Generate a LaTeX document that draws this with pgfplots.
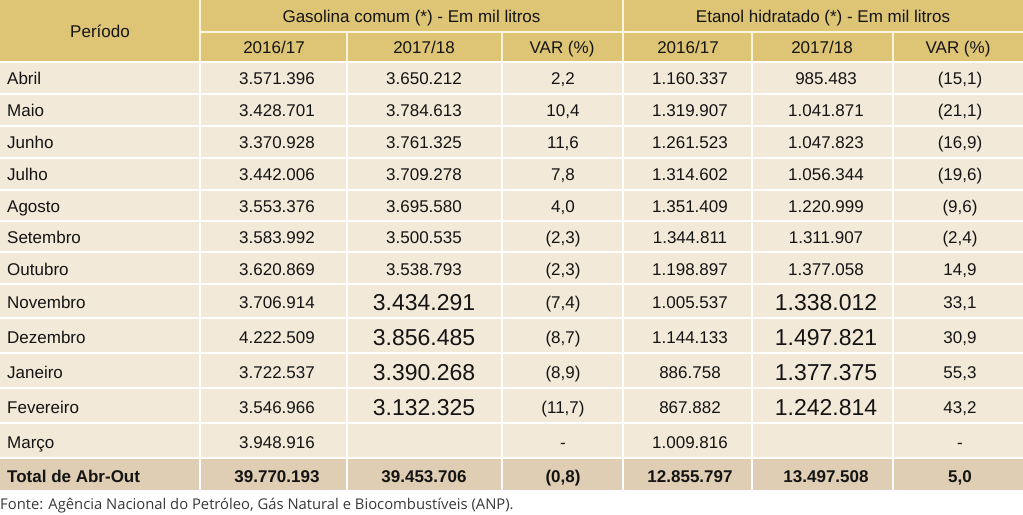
\documentclass[border=0pt]{standalone}
\usepackage{pgfplots}
\pgfplotsset{compat=1.18}
\usepackage{fontspec}
\setmainfont{Liberation Sans}
\newfontfamily\footfont{Open Sans}
\definecolor{hdr}{RGB}{222,197,118}
\definecolor{hline}{RGB}{252,244,220}
\definecolor{bodyc}{RGB}{243,233,216}
\definecolor{tot}{RGB}{223,206,179}
\definecolor{txt}{RGB}{20,20,20}
\pgfplotsset{
  txtplot/.style={only marks, mark=none, nodes near coords, point meta=explicit symbolic,
    every node near coord/.append style={anchor=base, inner sep=0pt, text=txt, font=\fontsize{17bp}{20bp}\selectfont}},
  wline/.style={white, line width=2.6bp, mark=none, forget plot},
  hwline/.style={hline, line width=2.4bp, mark=none, forget plot},
}
\begin{document}
\begin{tikzpicture}
\begin{axis}[hide axis, scale only axis, width=1023bp, height=515bp,
  xmin=0, xmax=1023, ymin=0, ymax=515, y dir=reverse, clip=false]
% backgrounds
\addplot[fill=hdr, draw=none, mark=none] coordinates {(0,0) (1023,0) (1023,62) (0,62)};
\addplot[fill=bodyc, draw=none, mark=none] coordinates {(0,62) (1023,62) (1023,458) (0,458)};
\addplot[fill=tot, draw=none, mark=none] coordinates {(0,458) (1023,458) (1023,491) (0,491)};
% rules
\addplot[hwline] coordinates {(200,32) (1023,32)};
\addplot[hwline] coordinates {(200,0) (200,62)};
\addplot[hwline] coordinates {(623,0) (623,62)};
\addplot[hwline] coordinates {(347,32) (347,62)};
\addplot[hwline] coordinates {(502,32) (502,62)};
\addplot[hwline] coordinates {(752,32) (752,62)};
\addplot[hwline] coordinates {(893,32) (893,62)};
\addplot[wline] coordinates {(0,62) (1023,62)};
\addplot[wline] coordinates {(0,94) (1023,94)};
\addplot[wline] coordinates {(0,126) (1023,126)};
\addplot[wline] coordinates {(0,158) (1023,158)};
\addplot[wline] coordinates {(0,190) (1023,190)};
\addplot[wline] coordinates {(0,221) (1023,221)};
\addplot[wline] coordinates {(0,252) (1023,252)};
\addplot[wline] coordinates {(0,284) (1023,284)};
\addplot[wline] coordinates {(0,318) (1023,318)};
\addplot[wline] coordinates {(0,353) (1023,353)};
\addplot[wline] coordinates {(0,388) (1023,388)};
\addplot[wline] coordinates {(0,423) (1023,423)};
\addplot[wline] coordinates {(0,458) (1023,458)};
\addplot[wline] coordinates {(0,491) (1023,491)};
\addplot[wline] coordinates {(200,62) (200,491)};
\addplot[wline] coordinates {(623,62) (623,491)};
\addplot[wline] coordinates {(347,62) (347,491)};
\addplot[wline] coordinates {(502,62) (502,491)};
\addplot[wline] coordinates {(752,62) (752,491)};
\addplot[wline] coordinates {(893,62) (893,491)};
% header
\addplot[txtplot] table[col sep=semicolon, x=x, y=y, meta=t] {
x;y;t
100;38;Período
411.5;23;Gasolina comum (*) - Em mil litros
823;23;Etanol hidratado (*) - Em mil litros
274;54;2016/17
424;54;2017/18
562;54;VAR (\%)
688;54;2016/17
822;54;2017/18
958;54;VAR (\%)
};
% period names
\addplot[txtplot, every node near coord/.append style={anchor=base west}] table[col sep=semicolon, x=x, y=y, meta=t] {
x;y;t
7;84.5;Abril
7;116.5;Maio
7;148.5;Junho
7;180.5;Julho
7;212.5;Agosto
7;243.5;Setembro
7;275;Outubro
7;308;Novembro
7;343;Dezembro
7;378;Janeiro
7;413;Fevereiro
7;448;Março
};
% Gasolina 2016/17
\addplot[txtplot] table[col sep=semicolon, x=x, y=y, meta=t] {
x;y;t
277;84.5;3.571.396
277;116.5;3.428.701
277;148.5;3.370.928
277;180.5;3.442.006
277;212.5;3.553.376
277;243.5;3.583.992
277;275;3.620.869
277;308;3.706.914
277;343;4.222.509
277;378;3.722.537
277;413;3.546.966
277;448;3.948.916
};
% Gasolina 2017/18
\addplot[txtplot] table[col sep=semicolon, x=x, y=y, meta=t] {
x;y;t
424;84.5;3.650.212
424;116.5;3.784.613
424;148.5;3.761.325
424;180.5;3.709.278
424;212.5;3.695.580
424;243.5;3.500.535
424;275;3.538.793
};
\addplot[txtplot, every node near coord/.append style={font=\fontsize{23bp}{26bp}\selectfont}] table[col sep=semicolon, x=x, y=y, meta=t] {
x;y;t
424;310;3.434.291
424;345;3.856.485
424;380;3.390.268
424;415;3.132.325
};
% Gasolina VAR
\addplot[txtplot] table[col sep=semicolon, x=x, y=y, meta=t] {
x;y;t
563;84.5;2,2
563;116.5;10,4
563;148.5;11,6
563;180.5;7,8
563;212.5;4,0
563;243.5;(2,3)
563;275;(2,3)
563;308;(7,4)
563;343;(8,7)
563;378;(8,9)
563;413;(11,7)
563;448;-
};
% Etanol 2016/17
\addplot[txtplot] table[col sep=semicolon, x=x, y=y, meta=t] {
x;y;t
690;84.5;1.160.337
690;116.5;1.319.907
690;148.5;1.261.523
690;180.5;1.314.602
690;212.5;1.351.409
690;243.5;1.344.811
690;275;1.198.897
690;308;1.005.537
690;343;1.144.133
690;378;886.758
690;413;867.882
690;448;1.009.816
};
% Etanol 2017/18
\addplot[txtplot] table[col sep=semicolon, x=x, y=y, meta=t] {
x;y;t
826;84.5;985.483
826;116.5;1.041.871
826;148.5;1.047.823
826;180.5;1.056.344
826;212.5;1.220.999
826;243.5;1.311.907
826;275;1.377.058
};
\addplot[txtplot, every node near coord/.append style={font=\fontsize{23bp}{26bp}\selectfont}] table[col sep=semicolon, x=x, y=y, meta=t] {
x;y;t
826;310;1.338.012
826;345;1.497.821
826;380;1.377.375
826;415;1.242.814
};
% Etanol VAR
\addplot[txtplot] table[col sep=semicolon, x=x, y=y, meta=t] {
x;y;t
960;84.5;(15,1)
960;116.5;(21,1)
960;148.5;(16,9)
960;180.5;(19,6)
960;212.5;(9,6)
960;243.5;(2,4)
960;275;14,9
960;308;33,1
960;343;30,9
960;378;55,3
960;413;43,2
960;448;-
};
% Total row
\addplot[txtplot, every node near coord/.append style={font=\fontsize{17bp}{20bp}\selectfont\bfseries}] table[col sep=semicolon, x=x, y=y, meta=t] {
x;y;t
277;482;39.770.193
424;482;39.453.706
563;482;(0,8)
690;482;12.855.797
826;482;13.497.508
960;482;5,0
};
\addplot[txtplot, every node near coord/.append style={anchor=base west, font=\fontsize{17bp}{20bp}\selectfont\bfseries}] table[col sep=semicolon, x=x, y=y, meta=t] {
x;y;t
7;482;Total de Abr-Out
};
% footer
\addplot[txtplot, every node near coord/.append style={anchor=base west, text=black!78, font=\fontsize{14.8bp}{17bp}\footfont}] table[col sep=semicolon, x=x, y=y, meta=t] {
x;y;t
0;509;Fonte: Agência Nacional do Petróleo, Gás Natural e Biocombustíveis (ANP).
};
\end{axis}
\pgfresetboundingbox
\path[use as bounding box] (0,0) rectangle (1023bp,515bp);
\end{tikzpicture}
\end{document}
